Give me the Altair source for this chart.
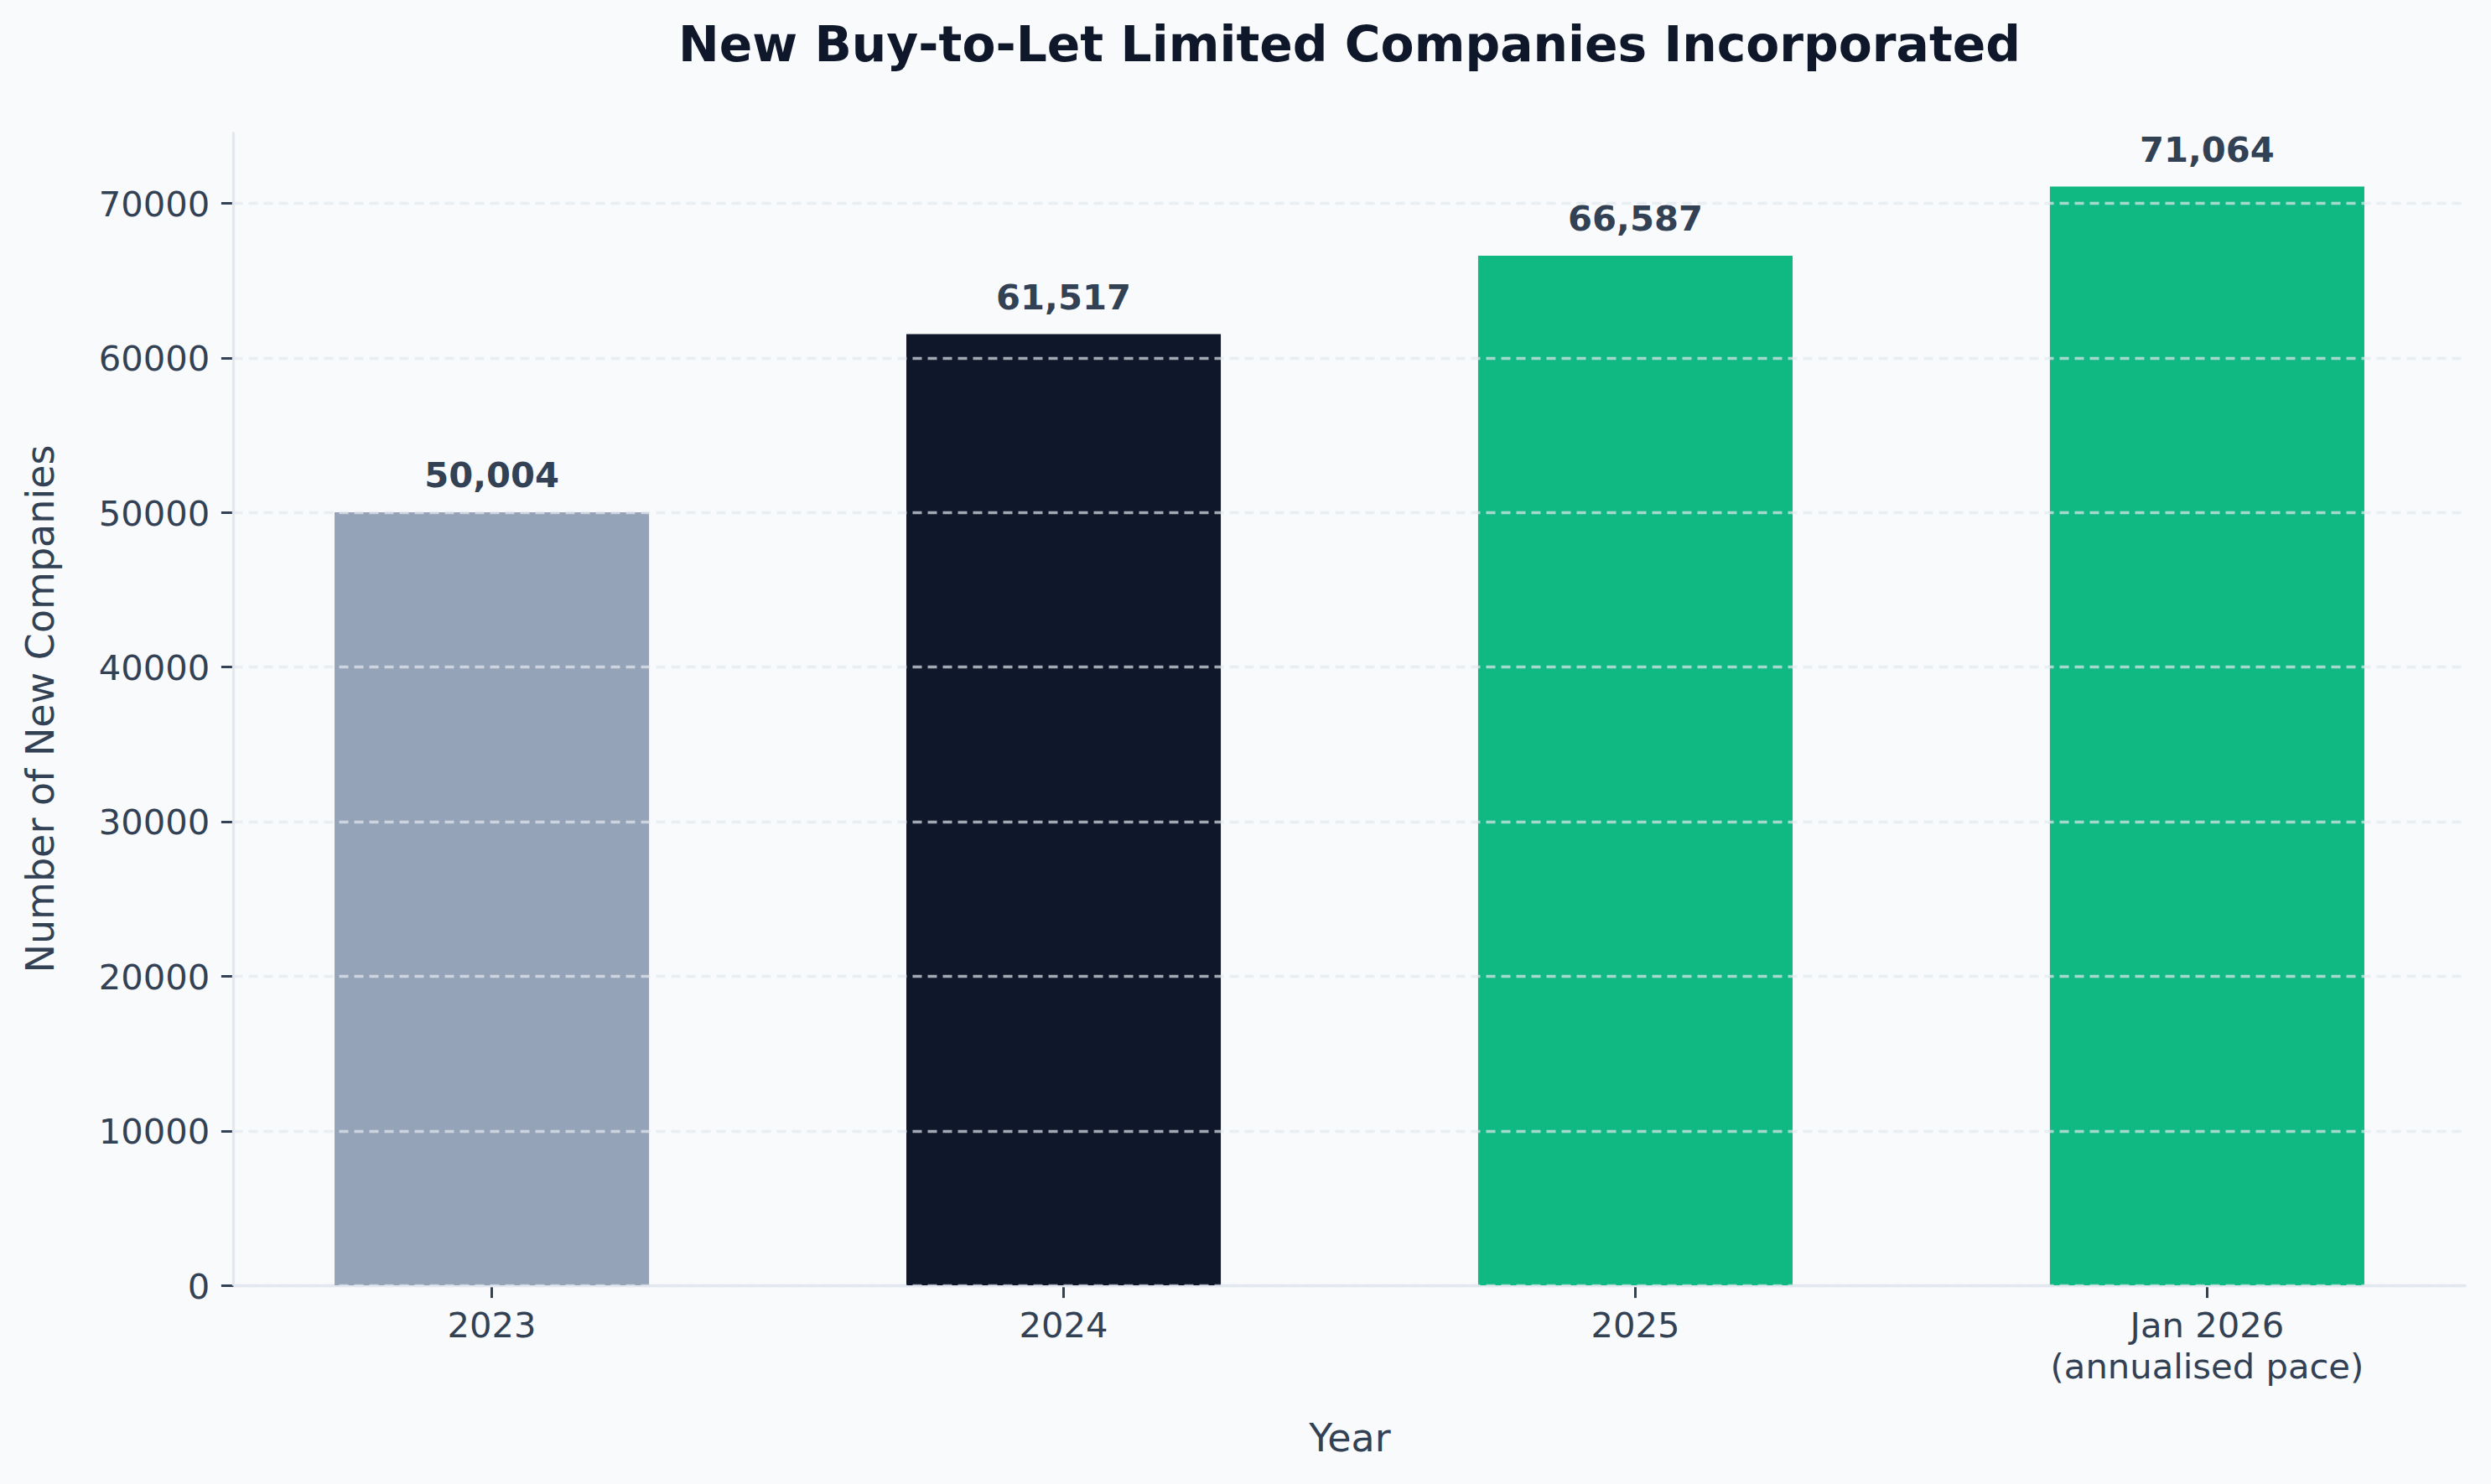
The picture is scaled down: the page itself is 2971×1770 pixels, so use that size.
import altair as alt
import pandas as pd

# Annual count of new buy-to-let limited companies
categories = ["2023", "2024", "2025", "Jan 2026\n(annualised pace)"]
companies = [50004, 61517, 66587, 71064]
bar_colours = ["#94a3b8", "#0f172a", "#10b981", "#10b981"]
y_ticks = [0, 10000, 20000, 30000, 40000, 50000, 60000, 70000]

df = pd.DataFrame({"year": categories, "companies": companies})

FONT = "DejaVu Sans"
TEXT = "#334155"
SPINE = "#e2e8f0"

PLOT_W = 2663
PLOT_H = 1376
Y_MAX = max(companies) * 1.05

x_enc = alt.X(
    "year:N",
    sort=categories,
    title="Year",
    scale=alt.Scale(paddingInner=0.45, paddingOuter=0.1775),
    axis=alt.Axis(
        labelAngle=0,
        labelExpr="split(datum.label, '\\n')",
        labelFont=FONT,
        labelFontSize=41.7,
        labelColor=TEXT,
        labelBaseline="alphabetic",
        labelPadding=47,
        labelLineHeight=49,
        labelOverlap=False,
        labelBound=False,
        labelLimit=0,
        tickColor=TEXT,
        tickWidth=3,
        tickSize=14.6,
        domainColor=SPINE,
        domainWidth=3.3,
        grid=False,
        titleFont=FONT,
        titleFontSize=46,
        titleFontWeight="normal",
        titleColor=TEXT,
        titleX=PLOT_W / 2,
        titleY=197,
        titleAlign="center",
        titleBaseline="alphabetic",
    ),
)

y_enc = alt.Y(
    "companies:Q",
    title="Number of New Companies",
    scale=alt.Scale(domain=[0, Y_MAX], nice=False, zero=True),
    axis=alt.Axis(
        values=y_ticks,
        format="d",
        labelFont=FONT,
        labelFontSize=41.7,
        labelColor=TEXT,
        labelPadding=13.5,
        labelBaseline="alphabetic",
        labelOffset=15.2,
        labelLimit=0,
        tickColor=TEXT,
        tickWidth=3,
        tickSize=14.6,
        domainColor=SPINE,
        domainWidth=3.3,
        grid=True,
        gridColor=SPINE,
        gridOpacity=0.7,
        gridWidth=3.3,
        gridDash=[11, 7],
        zindex=1,
        titleFont=FONT,
        titleFontSize=46,
        titleFontWeight="normal",
        titleColor=TEXT,
        titleAngle=-90,
        titleX=-215,
        titleY=PLOT_H / 2,
        titleAlign="center",
        titleBaseline="alphabetic",
    ),
)

bars = alt.Chart(df).mark_bar(cornerRadius=0).encode(
    x=x_enc,
    y=y_enc,
    color=alt.Color(
        "year:N",
        scale=alt.Scale(domain=categories, range=bar_colours),
        legend=None,
    ),
)

labels = alt.Chart(df).mark_text(
    font=FONT,
    fontSize=41.7,
    fontWeight="bold",
    color=TEXT,
    baseline="alphabetic",
    align="center",
    dy=-30,
).encode(
    x=alt.X("year:N", sort=categories),
    y=alt.Y("companies:Q"),
    text=alt.Text("companies:Q", format=",d"),
)

chart = (
    alt.layer(bars, labels)
    .properties(
        width=PLOT_W,
        height=PLOT_H,
        background="#f8fafc",
        padding={"left": 278, "top": 157, "right": 30, "bottom": 237},
        autosize=alt.AutoSizeParams(type="none"),
        title=alt.TitleParams(
            "New Buy-to-Let Limited Companies Incorporated",
            font=FONT,
            fontSize=58.3,
            fontWeight="bold",
            color="#0f172a",
            anchor="middle",
            frame="group",
            baseline="alphabetic",
            offset=26,
        ),
    )
    .configure_view(stroke=None)
)

chart.save("out.html", embed_options={"renderer": "svg", "actions": False})
